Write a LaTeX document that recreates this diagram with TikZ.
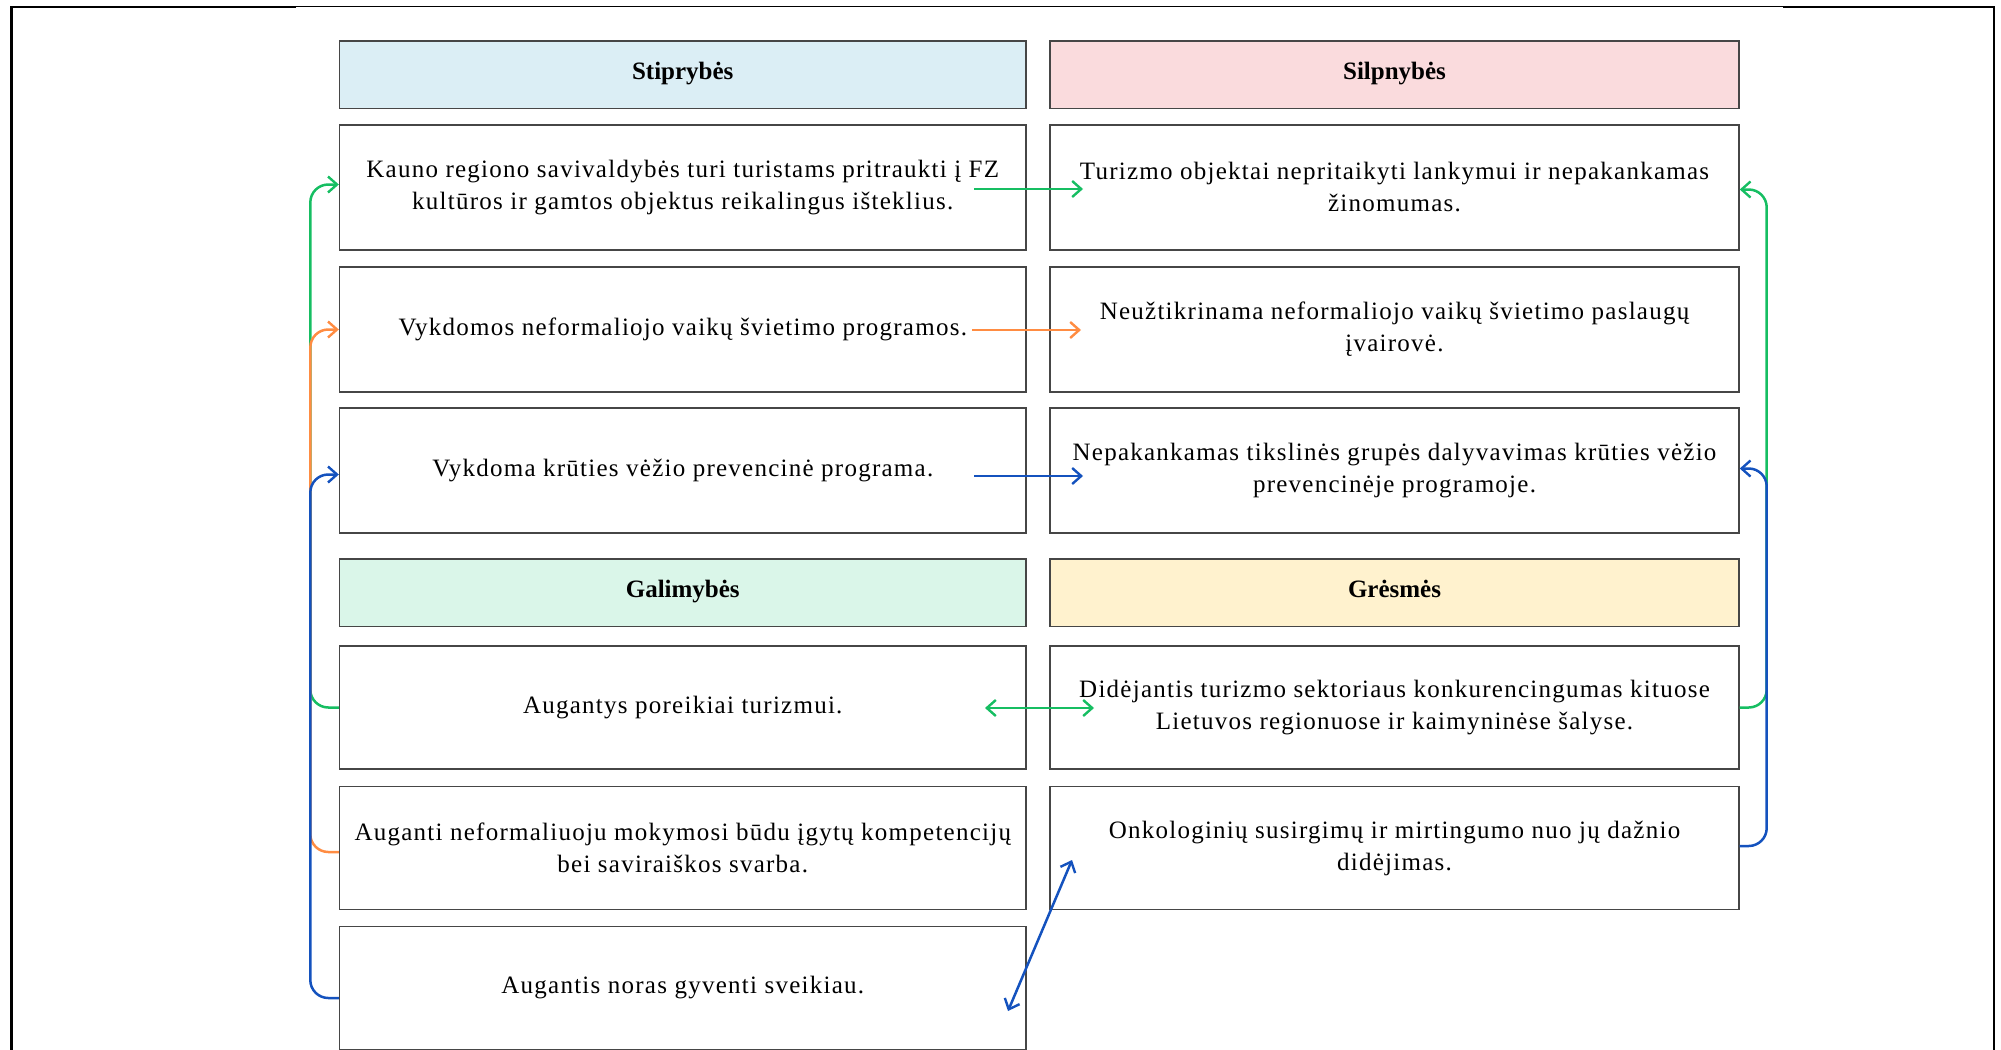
\documentclass[tikz,border=0pt]{standalone}
\usepackage{fontspec}
\setmainfont{Liberation Serif}
\newfontfamily\bodyfont{Liberation Serif}[LetterSpace=5]
\usetikzlibrary{arrows.meta}
\definecolor{grn}{RGB}{22,190,98}
\definecolor{org}{RGB}{255,140,66}
\definecolor{blu}{RGB}{20,82,190}
\definecolor{edge}{RGB}{70,70,70}
\definecolor{fS}{RGB}{219,238,245}
\definecolor{fW}{RGB}{250,219,221}
\definecolor{fO}{RGB}{218,246,233}
\definecolor{fT}{RGB}{255,242,206}
\tikzset{
  box/.style={draw=edge, line width=0.7pt, fill=white, align=center, inner sep=0pt,
    font=\bodyfont\fontsize{12.5}{16}\selectfont},
  lcol/.style={box, minimum width=343.25pt},
  rcol/.style={box, minimum width=344.5pt},
  hdr/.style={minimum height=33.75pt, text height=9pt, text depth=3.8pt, font=\bfseries\fontsize{12.5}{16}\selectfont},
  rowA/.style={minimum height=62.5pt},
  rowB/.style={minimum height=61.5pt},
  tip/.tip={Straight Barb[length=4.5pt,width=8pt,line width=1.2pt]},
  conn/.style={line width=1.25pt, rounded corners=9pt, -tip},
  dconn/.style={line width=1.25pt, tip-tip},
}
\begin{document}
\begin{tikzpicture}[x=0.5pt,y=-0.5pt]
\useasboundingbox (0,0) rectangle (2001,1049);
% outer frame
\draw[line width=0.5pt] (296,6.5) -- (1783,6.5);
\draw[line width=1.4pt] (296,7) -- (11.5,7) -- (11.5,1060);
\draw[line width=1.4pt] (1783,7) -- (1994,7) -- (1994,1060);
% headers
\node[lcol,hdr,fill=fS] (S) at (682.75,74.75) {Stiprybės};
\node[rcol,hdr,fill=fW] (W) at (1394.5,74.75) {Silpnybės};
\node[lcol,hdr,fill=fO] (O) at (682.75,592.75) {Galimybės};
\node[rcol,hdr,fill=fT] (T) at (1394.5,592.75) {Grėsmės};
% cells
\node[lcol,rowA] (L1) at (682.75,187.5) {Kauno regiono savivaldybės turi turistams pritraukti į FZ\\kultūros ir gamtos objektus reikalingus išteklius.};
\node[rcol,rowA] (R1) at (1394.5,187.5) {Turizmo objektai nepritaikyti lankymui ir nepakankamas\\žinomumas.};
\node[lcol,rowA] (L2) at (682.75,329.5) {Vykdomos neformaliojo vaikų švietimo programos.};
\node[rcol,rowA] (R2) at (1394.5,329.5) {Neužtikrinama neformaliojo vaikų švietimo paslaugų\\įvairovė.};
\node[lcol,rowA] (L3) at (682.75,470.5) {Vykdoma krūties vėžio prevencinė programa.};
\node[rcol,rowA] (R3) at (1394.5,470.5) {Nepakankamas tikslinės grupės dalyvavimas krūties vėžio\\prevencinėje programoje.};
\node[lcol,rowB] (L4) at (682.75,707.5) {Augantys poreikiai turizmui.};
\node[rcol,rowB] (R4) at (1394.5,707.5) {Didėjantis turizmo sektoriaus konkurencingumas kituose\\Lietuvos regionuose ir kaimyninėse šalyse.};
\node[lcol,rowB] (L5) at (682.75,848) {Auganti neformaliuoju mokymosi būdu įgytų kompetencijų\\bei saviraiškos svarba.};
\node[rcol,rowB] (R5) at (1394.5,848) {Onkologinių susirgimų ir mirtingumo nuo jų dažnio\\didėjimas.};
\node[lcol,rowB] (L6) at (682.75,988) {Augantis noras gyventi sveikiau.};
% free ends
\coordinate (g1s) at (974,189);  \coordinate (g1e) at (1083,189);
\coordinate (o2s) at (972,330);  \coordinate (o2e) at (1081,330);
\coordinate (b3s) at (974,476);  \coordinate (b3e) at (1083,476);
\coordinate (g4s) at (985,708);  \coordinate (g4e) at (1094,708);
\coordinate (b6s) at (1008,1011); \coordinate (b6e) at (1072,860);
% left bus
\draw[conn,grn] (L4.west) -- ++(-28.5,0) |- ([yshift=1.5pt]L1.west);
\draw[conn,org] ([yshift=-2pt]L5.west) -- ++(-28.5,0) |- (L2.west);
\draw[conn,blu] ([yshift=-5pt]L6.west) -- ++(-28.5,0) |- ([yshift=-2pt]L3.west);
% right bus
\draw[conn,grn] (R4.east) -- ++(27,0) |- ([yshift=-1pt]R1.east);
\draw[conn,blu] ([yshift=1pt]R5.east) -- ++(27,0) |- ([yshift=1pt]R3.east);
% middle arrows
\draw[conn,grn] (g1s) -- (g1e);
\draw[conn,org] (o2s) -- (o2e);
\draw[conn,blu] (b3s) -- (b3e);
\draw[dconn,grn] (g4s) -- (g4e);
\draw[dconn,blu] (b6s) -- (b6e);
\end{tikzpicture}
\end{document}
